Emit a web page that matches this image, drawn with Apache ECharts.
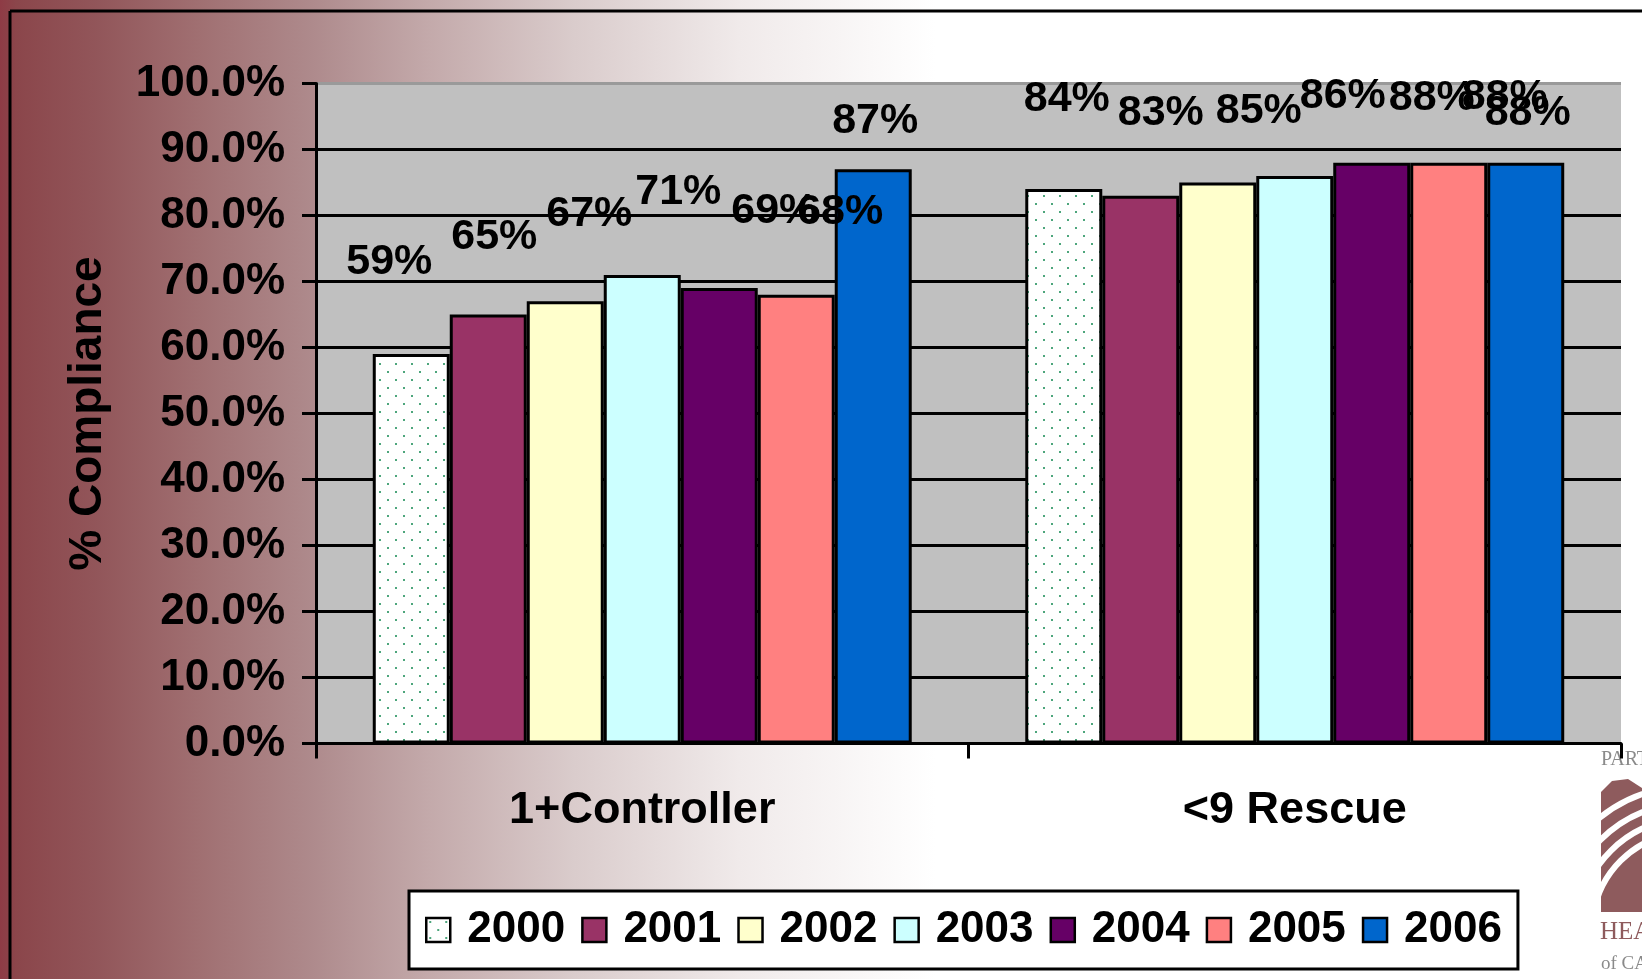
<!DOCTYPE html>
<html>
<head>
<meta charset="utf-8">
<script src="https://cdn.jsdelivr.net/npm/echarts@6/dist/echarts.min.js"></script>
<style>
  html, body { margin: 0; padding: 0; background: #fff; }
  #chart { width: 1642px; height: 979px; }
</style>
</head>
<body>
<div id="chart"></div>
<script>
// ---- data ----
const categories = ['1+Controller', '<9 Rescue'];
const years = ['2000', '2001', '2002', '2003', '2004', '2005', '2006'];
const v2000 = [59, 84];
const v2001 = [65, 83];
const v2002 = [67, 85];
const v2003 = [71, 86];
const v2004 = [69, 88];
const v2005 = [68, 88];
const v2006 = [87, 88];
const yMin = 0, yMax = 100, yStep = 10;

// ---- styles ----
const FONT = 'Liberation Sans, Arial, sans-serif';
const seriesValues = [v2000, v2001, v2002, v2003, v2004, v2005, v2006];
// label offsets (px) reproducing the hand-placed labels of the original
const labelShift = [
  [[-22, -70], [3, -68]],
  [[6, -56], [20, -61]],
  [[24, -66], [41, -50]],
  [[36, -61], [48, -58]],
  [[55, -55], [60, -43]],
  [[44, -61], [56, -44]],
  [[2, -27], [2, -28]]
];

const dot = document.createElement('canvas');
dot.width = 16; dot.height = 16;
const dctx = dot.getContext('2d');
dctx.fillStyle = '#ffffff'; dctx.fillRect(0, 0, 16, 16);
dctx.fillStyle = '#4DA67C';
dctx.fillRect(3, 3, 2, 2); dctx.fillRect(11, 11, 2, 2);

const colors = [
  { image: dot, repeat: 'repeat' },
  '#993366', '#FFFFCC', '#CCFFFF', '#660066', '#FF8080', '#0066CC'
];

const splitColors = [];
for (let v = yMin; v <= yMax; v += yStep) splitColors.push(v === yMax ? '#9a9a9a' : '#000000');

const series = years.map((y, i) => ({
  name: y,
  type: 'bar',
  barGap: '0%',
  barCategoryGap: '17.4%',
  itemStyle: { color: colors[i], borderColor: '#000', borderWidth: 3 },
  label: {
    show: true, position: 'top', distance: 0,
    formatter: p => p.value + '%',
    fontFamily: FONT, fontWeight: 'bold', fontSize: 43, lineHeight: 43, color: '#000'
  },
  data: seriesValues[i].map((v, j) => ({ value: v, label: { offset: labelShift[i][j] } }))
}));

const chart = echarts.init(document.getElementById('chart'), null, { renderer: 'canvas' });
chart.setOption({
  animation: false,
  backgroundColor: {
    type: 'linear', x: 0, y: 0, x2: 1, y2: 0,
    colorStops: [
      { offset: 0, color: '#8E3B45' },
      { offset: 0.01, color: '#8B464B' },
      { offset: 0.06, color: '#92565A' },
      { offset: 0.12, color: '#A06F71' },
      { offset: 0.19, color: '#AE8A8C' },
      { offset: 0.26, color: '#C3A9AA' },
      { offset: 0.35, color: '#DACCCC' },
      { offset: 0.45, color: '#F0EAEA' },
      { offset: 0.57, color: '#FFFFFF' },
      { offset: 1, color: '#FFFFFF' }
    ]
  },
  grid: {
    left: 316, top: 83.5, right: 21, bottom: 235.5,
    show: true, backgroundColor: '#C0C0C0', borderWidth: 0
  },
  legend: {
    data: years,
    left: 409, top: 891,
    orient: 'horizontal',
    selectedMode: false,
    backgroundColor: '#fff',
    borderColor: '#000', borderWidth: 3,
    padding: [17, 16, 17, 16],
    itemWidth: 24, itemHeight: 24, itemGap: 16,
    icon: 'rect',
    itemStyle: { borderColor: '#000', borderWidth: 2.5 },
    textStyle: { fontFamily: FONT, fontWeight: 'bold', fontSize: 44, color: '#000', padding: [0, 0, 0, 12] }
  },
  xAxis: {
    type: 'category',
    data: categories,
    axisLine: { show: true, lineStyle: { color: '#000', width: 3 } },
    axisTick: { show: true, length: 15, lineStyle: { color: '#000', width: 3 } },
    axisLabel: { fontFamily: FONT, fontWeight: 'bold', fontSize: 45, color: '#000', margin: 45 },
    splitLine: { show: false }
  },
  yAxis: {
    type: 'value',
    min: yMin, max: yMax, interval: yStep,
    name: '% Compliance',
    nameLocation: 'middle', nameRotate: 90, nameGap: 205,
    nameTextStyle: { fontFamily: FONT, fontWeight: 'bold', fontSize: 46, color: '#000' },
    axisLine: { show: true, lineStyle: { color: '#000', width: 3 } },
    axisTick: { show: true, length: 14, lineStyle: { color: '#000', width: 3 } },
    axisLabel: {
      fontFamily: FONT, fontWeight: 'bold', fontSize: 44, color: '#000', margin: 31,
      formatter: v => v.toFixed(1) + '%'
    },
    splitLine: { show: true, lineStyle: { color: splitColors, width: 3 } }
  },
  graphic: [
    { type: 'line', z: 100, shape: { x1: 10, y1: 11, x2: 1642, y2: 11 }, style: { stroke: '#000', lineWidth: 3 } },
    { type: 'line', z: 100, shape: { x1: 10, y1: 11, x2: 10, y2: 979 }, style: { stroke: '#000', lineWidth: 3 } },
    { type: 'text', left: 1601, top: 750, style: { text: 'PART', font: '20px "Liberation Serif", serif', fill: '#8a8a8a' } },
    { type: 'polygon', shape: { points: [[1601, 792], [1612, 781], [1628, 779], [1642, 788], [1642, 912], [1601, 912]] }, style: { fill: '#8E5B5D' } },
    { type: 'arc', shape: { cx: 1690, cy: 930, r: 144, startAngle: Math.PI * 1.05, endAngle: Math.PI * 1.45 }, style: { stroke: '#fff', lineWidth: 6, fill: null } },
    { type: 'arc', shape: { cx: 1690, cy: 930, r: 127, startAngle: Math.PI * 1.05, endAngle: Math.PI * 1.45 }, style: { stroke: '#fff', lineWidth: 6, fill: null } },
    { type: 'arc', shape: { cx: 1690, cy: 930, r: 112, startAngle: Math.PI * 1.05, endAngle: Math.PI * 1.45 }, style: { stroke: '#fff', lineWidth: 6, fill: null } },
    { type: 'arc', shape: { cx: 1690, cy: 930, r: 98, startAngle: Math.PI * 1.05, endAngle: Math.PI * 1.45 }, style: { stroke: '#fff', lineWidth: 6, fill: null } },
    { type: 'text', left: 1600, top: 920, style: { text: 'HEA', font: '25px "Liberation Serif", serif', fill: '#8E5B5D' } },
    { type: 'text', left: 1601, top: 955, style: { text: 'of CA', font: '19px "Liberation Serif", serif', fill: '#8a8a8a' } }
  ],
  series: series
});
</script>
</body>
</html>
